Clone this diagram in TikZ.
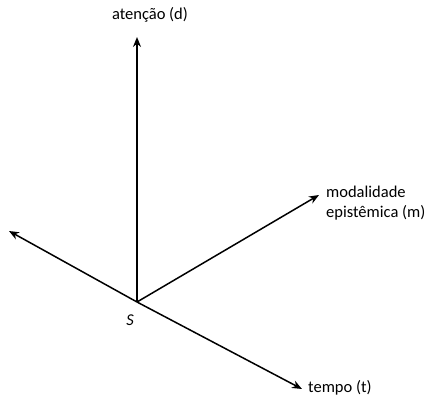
\documentclass[tikz,border=0pt]{standalone}
\usepackage{fontspec}
\setmainfont{Carlito}
\usetikzlibrary{arrows.meta}

\begin{document}
\begin{tikzpicture}[
  x=1pt, y=-1pt,
  font=\fontsize{16.5}{20}\selectfont,
  axis/.style={-{Stealth[length=10pt, width=8pt]}, draw=black, line width=1.5pt},
  lbl/.style={inner sep=0pt, align=left}
]
\useasboundingbox (0,0) rectangle (429,398);

\coordinate (o) at (137,302);
\coordinate (d) at (137,37);
\coordinate (m) at (319,195);
\coordinate (w) at (9,231);
\coordinate (t) at (302,389);

\draw[axis] (o) -- (d);
\draw[axis] (o) -- (m);
\draw[axis] (o) -- (w);
\draw[axis] (o) -- (t);

\node[lbl] (dlab) at (150,15) {atenção (d)};
\node[lbl, anchor=west] (mlab) at (326,203) {modalidade\\epistêmica (m)};
\node[lbl, anchor=west] (tlab) at (308,388) {tempo (t)};
\node[lbl, font=\fontsize{16.5}{20}\selectfont\itshape] (s) at (130,320) {S};
\end{tikzpicture}
\end{document}
